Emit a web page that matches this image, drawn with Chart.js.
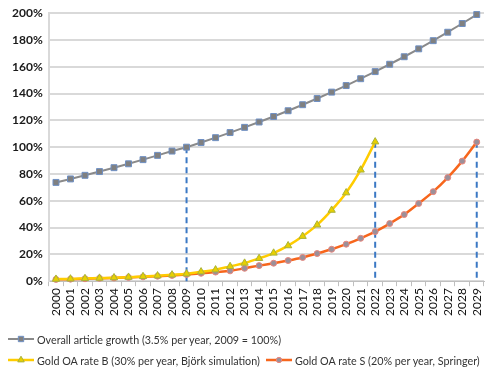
<!DOCTYPE html>
<html>
<head>
<meta charset="utf-8">
<script src="https://cdn.jsdelivr.net/npm/chart.js@4.4.0/dist/chart.umd.min.js"></script>
<style>
  html, body { margin: 0; padding: 0; background: #fff; }
  #wrap { position: relative; width: 500px; height: 379px; }
  #chart { display: block; }
  .legend-row { position: absolute; left: 8px; height: 14px; display: flex; align-items: center;
    font-family: Lato, sans-serif; font-size: 10.75px; color: #333; white-space: nowrap; }
  .legend-item { display: flex; align-items: center; margin-right: 6px; }
  .legend-item canvas { margin-right: 3px; }
</style>
</head>
<body>
<div id="wrap">
  <canvas id="chart" width="500" height="379"></canvas>
  <div class="legend-row" id="row0" style="top:332px"></div>
  <div class="legend-row" id="row1" style="top:353px"></div>
</div>
<script>
// Categories
const years = ['2000', '2001', '2002', '2003', '2004', '2005', '2006', '2007', '2008', '2009',
  '2010', '2011', '2012', '2013', '2014', '2015', '2016', '2017', '2018', '2019',
  '2020', '2021', '2022', '2023', '2024', '2025', '2026', '2027', '2028', '2029'];

// Series values (%)
const overallGrowth = [73.7, 76.3, 79.0, 81.8, 84.7, 87.6, 90.7, 93.9, 97.1, 100,
  103.5, 107.1, 110.9, 114.8, 118.8, 122.9, 127.2, 131.7, 136.3, 141.1,
  146.0, 151.1, 156.4, 161.9, 167.5, 173.4, 179.5, 185.8, 192.3, 199.0];
const goldRateB = [1.5, 1.7, 2.0, 2.3, 2.6, 3.0, 3.5, 4.0, 4.7, 5.5,
  7.0, 8.5, 11.0, 13.5, 17.0, 21.0, 26.5, 33.5, 42.0, 53.0,
  66.0, 83.0, 104.0, null, null, null, null, null, null, null];
const goldRateS = [1.3, 1.5, 1.8, 2.1, 2.4, 2.8, 3.2, 3.7, 4.3, 5.0,
  5.9, 6.8, 7.7, 9.6, 11.6, 13.4, 15.4, 17.7, 20.6, 23.8,
  27.6, 32.0, 37.0, 43.0, 49.7, 58.0, 66.8, 77.3, 89.6, 103.8];

const seriesNames = [
  'Overall article growth (3.5% per year, 2009 = 100%)',
  'Gold OA rate B (30% per year, Björk simulation)',
  'Gold OA rate S (20% per year, Springer)'
];

// Y ticks
const yMin = 0, yMax = 200, yStep = 20;

// Dashed drop lines
const dropYears = ['2009', '2022', '2029'];
const dropTops = [100, 104, 104];

const dropLines = {
  id: 'dropLines',
  beforeDatasetsDraw(chart) {
    const ctx = chart.ctx;
    const x = chart.scales.x, y = chart.scales.y;
    ctx.save();
    ctx.strokeStyle = '#3b78c4';
    ctx.lineWidth = 2;
    ctx.setLineDash([6, 4]);
    dropYears.forEach((yr, i) => {
      const px = x.getPixelForValue(years.indexOf(yr));
      ctx.beginPath();
      ctx.moveTo(px, y.getPixelForValue(dropTops[i]));
      ctx.lineTo(px, y.getPixelForValue(0));
      ctx.stroke();
    });
    ctx.restore();
  }
};

const chart = new Chart(document.getElementById('chart'), {
  type: 'line',
  data: {
    labels: years,
    datasets: [
      {
        label: seriesNames[0],
        data: overallGrowth,
        borderColor: '#8a8a8a',
        borderWidth: 2,
        pointStyle: 'rect',
        pointRadius: 4.2,
        pointBackgroundColor: '#808080',
        pointBorderColor: '#6f90c4',
        pointBorderWidth: 1,
        tension: 0
      },
      {
        label: seriesNames[1],
        data: goldRateB,
        borderColor: '#ffcc00',
        borderWidth: 2.5,
        pointStyle: 'triangle',
        pointRadius: 4.2,
        pointBackgroundColor: '#e8d000',
        pointBorderColor: '#a9b23a',
        pointBorderWidth: 1,
        cubicInterpolationMode: 'monotone'
      },
      {
        label: seriesNames[2],
        data: goldRateS,
        borderColor: '#f7661c',
        borderWidth: 2.5,
        pointStyle: 'circle',
        pointRadius: 3,
        pointBackgroundColor: '#9b9099',
        pointBorderColor: '#e8857c',
        pointBorderWidth: 1,
        cubicInterpolationMode: 'monotone'
      }
    ]
  },
  options: {
    responsive: false,
    animation: false,
    clip: false,
    layout: { padding: { top: 6, right: 16, left: 6, bottom: 61 } },
    plugins: {
      legend: { display: false },
      tooltip: { enabled: false }
    },
    scales: {
      x: {
        offset: true,
        grid: { offset: true, drawOnChartArea: false, tickLength: 5, color: '#bfbfbf', lineWidth: 1 },
        border: { color: '#bfbfbf', width: 1 },
        ticks: {
          autoSkip: false, minRotation: 90, maxRotation: 90, padding: 2,
          color: '#111', font: { family: 'Lato', size: 12 }
        }
      },
      y: {
        min: yMin, max: yMax,
        grid: { color: '#d9d9d9', lineWidth: 2, drawTicks: false },
        border: { color: '#d9d9d9', width: 2 },
        ticks: {
          stepSize: yStep, padding: 6,
          color: '#1a1a1a', font: { family: 'Lato', size: 12, weight: 'bold' },
          callback: v => v + '%'
        }
      }
    }
  },
  plugins: [dropLines]
});
</script>
<script>
// HTML legend built from chart datasets
const legendRows = [[0], [1, 2]];
legendRows.forEach((idxs, r) => {
  const row = document.getElementById('row' + r);
  idxs.forEach(i => {
    const ds = chart.data.datasets[i];
    const item = document.createElement('div');
    item.className = 'legend-item';
    const c = document.createElement('canvas');
    c.width = 26; c.height = 12;
    const ctx = c.getContext('2d');
    ctx.strokeStyle = ds.borderColor;
    ctx.lineWidth = ds.borderWidth;
    ctx.beginPath();
    ctx.moveTo(0, 6); ctx.lineTo(26, 6);
    ctx.stroke();
    ctx.fillStyle = ds.pointBackgroundColor;
    ctx.strokeStyle = ds.pointBorderColor;
    ctx.lineWidth = 1;
    Chart.helpers.drawPoint(ctx, { pointStyle: ds.pointStyle, radius: ds.pointRadius * 0.9, rotation: 0, borderWidth: 1 }, 13, 6);
    const span = document.createElement('span');
    span.textContent = ds.label;
    item.appendChild(c);
    item.appendChild(span);
    row.appendChild(item);
  });
});
</script>
</body>
</html>
